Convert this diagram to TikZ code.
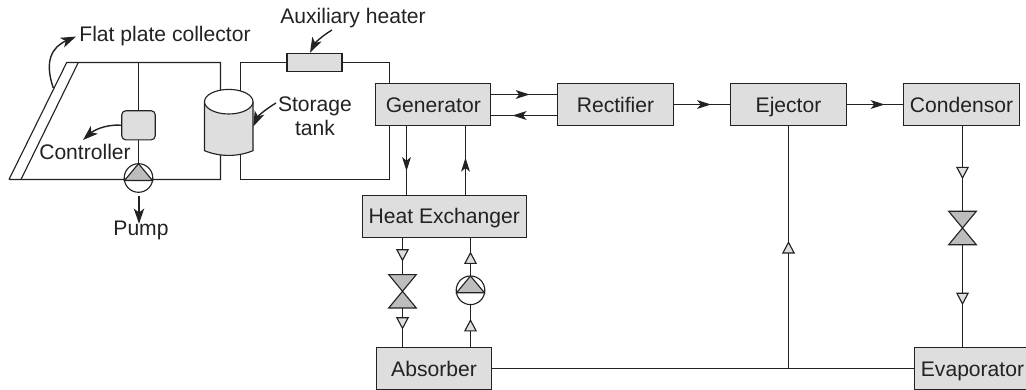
\documentclass[tikz,border=0pt]{standalone}
\usepackage{fontspec}
\setmainfont{Liberation Sans}
\usetikzlibrary{arrows.meta,decorations.markings}

\definecolor{boxgray}{HTML}{DEDEDE}
\definecolor{darkgray}{HTML}{BDBDBD}
\definecolor{inkgray}{HTML}{222222}

\tikzset{
  flowtip/.tip={Stealth[length=3.5mm,width=2.2mm,inset=0.9mm]},
  opentip/.tip={Triangle[open,length=3.1mm,width=3.2mm,fill=boxgray]},
  leadertip/.tip={Stealth[length=3.8mm,width=2.6mm,inset=1mm]},
  box/.style={draw,fill=boxgray,inner sep=0pt,text height=10.8pt,text depth=0pt,minimum width=2.88cm,minimum height=1.04cm},
  label/.style={anchor=base,inner sep=2pt},
  leader/.style={-leadertip,line width=1pt},
  flowsolid/.style={postaction={decorate,decoration={markings,mark=at position #1 with {\arrow{flowtip}}}}},
  flowopen/.style={postaction={decorate,decoration={markings,mark=at position #1 with {\arrow{opentip}}}}},
  valve/.pic={
    \draw[fill=darkgray] (-13.8,16.7) -- (13.8,16.7) -- (0,0) -- cycle;
    \draw[fill=darkgray] (-13.8,-16.7) -- (13.8,-16.7) -- (0,0) -- cycle;
  },
  pump/.pic={
    \draw[fill=white] (0,0) circle (14.3);
    \draw[fill=darkgray] (-14,-2.5) -- (0,14.3) -- (14,-2.5) -- cycle;
  }
}

\begin{document}
\begin{tikzpicture}[x=0.025cm,y=0.025cm,line width=0.8pt,draw=inkgray,text=inkgray,font=\fontsize{15}{16.8}\selectfont]
\useasboundingbox (0,0) rectangle (1026,389);

% Main boxes
\node[box] (gen) at (433.3,284.5) {Generator};
\node[box] (rect) at (615.5,284.5) {Rectifier};
\node[box] (ej) at (788.5,284.5) {Ejector};
\node[box] (cond) at (961.5,284.5) {Condensor};
\node[box,minimum width=4.1cm] (hx) at (444.3,172.7) {Heat Exchanger};
\node[box] (abs) at (434,20.5) {Absorber};
\node[box] (evap) at (972.5,20.5) {Evaporator};

% Heater, controller
\node[box,minimum width=1.375cm,minimum height=0.46cm] (aux) at (314.5,326.5) {};
\node[box,rounded corners=3pt,minimum width=0.84cm,minimum height=0.73cm] (ctrl) at (138.5,263.7) {};

% Labels
\node[label] (flat) at (165,347) {Flat plate collector};
\node[label] (auxtxt) at (353,365) {Auxiliary heater};
\node[align=center,inner sep=2pt] (tanktxt) at (315,273) {Storage\\tank};
\node[label] (ctrltxt) at (85,229) {Controller};
\node[label] (pumptxt) at (141,153) {Pump};

% Reference points
\coordinate (colA) at (66.7,326.5);
\coordinate (colB) at (9,209.5);
\coordinate (colC) at (78.3,326.5);
\coordinate (colD) at (21,209.5);
\coordinate (pipeL) at (220.5,209.5);
\coordinate (pipeR) at (240.5,209.5);
\coordinate (genpipe) at (389.5,209.5);
\coordinate (pump1) at (138.5,211);
\coordinate (pump2) at (470.5,98.7);
\coordinate (valve1) at (402.5,97.7);
\coordinate (valve2) at (962.5,161);
\coordinate (tee) at (ej.south |- abs.east);

% Collector loop
\draw (colB) -- (colA) -- (colA -| pipeL) -- (pipeL) -- (colB);
\draw (colD) -- (colC);
\draw (pump1 |- colA) -- (ctrl.north);
\draw (ctrl.south) -- (pump1);

% Heater loop
\draw (aux.west) -| (pipeR) -- (genpipe) -- (genpipe |- gen.south);
\draw (aux.east) -| (genpipe |- gen.north);

% Storage tank
\draw[fill=boxgray] (204.5,287.3) -- (204.5,238.3) .. controls (220,232) and (237.5,232) .. (253,238.3) -- (253,287.3);
\draw[fill=white] (228.75,287.3) ellipse (24.25 and 12.3);

% Flow between boxes
\draw[flowsolid=0.58] (gen.east |- 0,294.5) -- (rect.west |- 0,294.5);
\draw[flowsolid=0.68] (rect.west |- 0,273.5) -- (gen.east |- 0,273.5);
\draw[flowsolid=0.66] (rect.east) -- (ej.west);
\draw[flowsolid=0.67] (ej.east) -- (cond.west);
\draw[flowsolid=0.655] (gen.south -| 406.5,0) -- (hx.north -| 406.5,0);
\draw[flowsolid=0.54] (hx.north -| 465.5,0) -- (gen.south -| 465.5,0);
\draw[flowopen=0.218,flowopen=0.84] (hx.south -| valve1) -- (abs.north -| valve1);
\draw[flowopen=0.257,flowopen=0.873] (abs.north -| pump2) -- (hx.south -| pump2);
\draw (abs.east) -- (evap.west);
\draw[flowopen=0.525] (tee) -- (ej.south);
\draw[flowopen=0.241,flowopen=0.81] (cond.south -| valve2) -- (evap.north -| valve2);

% Pumps and valves
\pic at (pump1) {pump};
\pic at (pump2) {pump};
\pic at (valve1) {valve};
\pic at (valve2) {valve};

% Leaders
\coordinate (auxfrom) at (332,359);
\coordinate (tankfrom) at (276,286);
\coordinate (pumpfrom) at (139,193);
\draw[leader] (53.3,301) .. controls (44,328) and (52,342) .. (flat.west);
\draw[leader] (auxfrom) .. controls (322,353) and (315,346) .. (aux.north -| 310,0);
\draw[leader] (tankfrom) .. controls (266,280) and (258,273) .. (253.3,262.5);
\draw[leader] (ctrl.west) .. controls (105,265) and (93,258) .. (83,249);
\draw[leader,shorten >=-4pt] (pumpfrom) -- (pumptxt.north -| 139,0);
\end{tikzpicture}
\end{document}
